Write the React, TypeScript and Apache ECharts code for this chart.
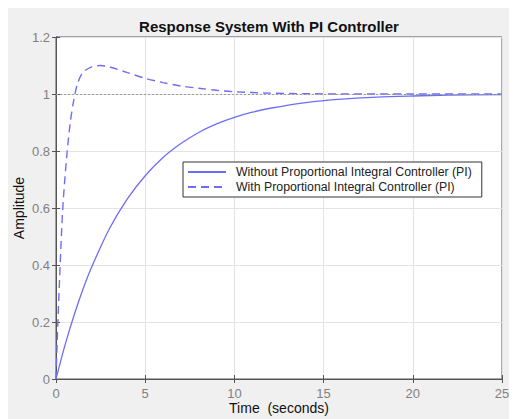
import React, { useEffect, useRef } from "react";
import * as echarts from "echarts";

const title = "Response System With PI Controller";
const seriesNames = [
  "Without Proportional Integral Controller (PI)",
  "With Proportional Integral Controller (PI)",
];
// time (s) and amplitude
const solidTime = [0, 0.5, 1, 1.5, 2, 3, 4, 5, 6, 7, 8, 9, 10, 11, 12, 14, 16, 18, 20, 22, 25];
const solidAmp = [0, 0.118, 0.221, 0.313, 0.393, 0.528, 0.632, 0.713, 0.777, 0.826, 0.865, 0.895, 0.918, 0.936, 0.95, 0.97, 0.982, 0.989, 0.993, 0.996, 0.998];
const dashTime = [0, 0.1, 0.2, 0.3, 0.4, 0.6, 0.8, 1.0, 1.2, 1.5, 2, 2.5, 3, 4, 5, 6, 7, 8, 9, 10, 12, 14, 16, 20, 25];
const dashAmp = [0, 0.19, 0.35, 0.5, 0.62, 0.78, 0.9, 0.98, 1.035, 1.075, 1.095, 1.1, 1.095, 1.075, 1.055, 1.04, 1.028, 1.02, 1.013, 1.008, 1.003, 1.001, 1.0, 1.0, 1.0];
const steadyState = 1;
const xTicks = { min: 0, max: 25, interval: 5 };
const yTicks = { min: 0, max: 1.2, interval: 0.2 };

const font = "'Liberation Sans', Arial, sans-serif";
const lineColor = "#6e6ef5";

export default function App() {
  const ref = useRef<HTMLDivElement>(null);
  useEffect(() => {
    if (!ref.current) return;
    const chart = echarts.init(ref.current, null, { renderer: "svg" });
    const pair = (xs: number[], ys: number[]) => xs.map((x, i) => [x, ys[i]]);
    const axisCommon = {
      splitLine: { show: false },
      axisLabel: { show: false },
      axisTick: { inside: true, length: 4, lineStyle: { color: "#555" } },
      axisLine: { show: true, lineStyle: { color: "#555" } },
    };
    chart.setOption({
      animation: false,
      backgroundColor: "#f0f0f0",
      textStyle: { fontFamily: font },
      title: {
        text: title,
        left: 256,
        textAlign: "center",
        top: 6,
        textStyle: { fontSize: 15, fontWeight: "bold", color: "#111", fontFamily: font },
      },
      grid: {
        left: 48,
        right: 15,
        top: 29,
        bottom: 40,
        outerBoundsMode: "none",
        containLabel: false,
        show: true,
        backgroundColor: "#ffffff",
        borderColor: "#555",
        borderWidth: 1,
      },
      legend: {
        left: 175,
        top: 154,
        orient: "vertical",
        backgroundColor: "#ffffff",
        borderColor: "#333",
        borderWidth: 1,
        borderRadius: 0,
        padding: [4, 10, 4, 4],
        itemGap: 3,
        itemWidth: 38,
        itemHeight: 12,
        itemStyle: { opacity: 0 },
        textStyle: { fontSize: 12.3, color: "#222", fontFamily: font, padding: [0, 0, 0, 5] },
        data: seriesNames,
      },
      xAxis: [
        {
          type: "value",
          ...xTicks,
          name: "Time  (seconds)",
          nameLocation: "middle",
          nameGap: 22,
          nameMoveOverlap: false,
          nameTextStyle: { fontSize: 14, color: "#111" },
          axisLine: { show: true, lineStyle: { color: "#555" } },
          axisTick: { inside: true, length: 4, lineStyle: { color: "#555" } },
          axisLabel: { fontSize: 13, color: "#808080", margin: 8 },
          splitLine: { show: true, lineStyle: { color: "#e3e3e3" } },
        },
        { type: "value", position: "top", ...xTicks, ...axisCommon },
      ],
      yAxis: [
        {
          type: "value",
          ...yTicks,
          name: "Amplitude",
          nameLocation: "middle",
          nameGap: 30,
          nameMoveOverlap: false,
          nameTextStyle: { fontSize: 14, color: "#111" },
          axisLine: { show: true, lineStyle: { color: "#555" } },
          axisTick: { show: true, inside: true, length: 4, lineStyle: { color: "#555" } },
          axisLabel: { fontSize: 13, color: "#808080", margin: 6 },
          splitLine: { show: true, lineStyle: { color: "#e3e3e3" } },
        },
        { type: "value", position: "right", ...yTicks, ...axisCommon },
      ],
      series: [
        {
          name: seriesNames[0],
          type: "line",
          data: pair(solidTime, solidAmp),
          smooth: 0.3,
          showSymbol: false,
          symbol: "none",
          lineStyle: { color: lineColor, width: 1.3 },
          itemStyle: { color: lineColor },
          z: 3,
          markLine: {
            silent: true,
            symbol: "none",
            label: { show: false },
            lineStyle: { type: [2, 2], color: "#9a9a9a", width: 1 },
            data: [{ yAxis: steadyState }],
          },
        },
        {
          name: seriesNames[1],
          type: "line",
          data: pair(dashTime, dashAmp),
          smooth: 0.3,
          showSymbol: false,
          symbol: "none",
          lineStyle: { color: lineColor, width: 1.4, type: [8, 5] },
          itemStyle: { color: lineColor },
          z: 3,
        },
      ],
    });
    return () => chart.dispose();
  }, []);
  return <div ref={ref} style={{ width: 509, height: 411 }} />;
}
